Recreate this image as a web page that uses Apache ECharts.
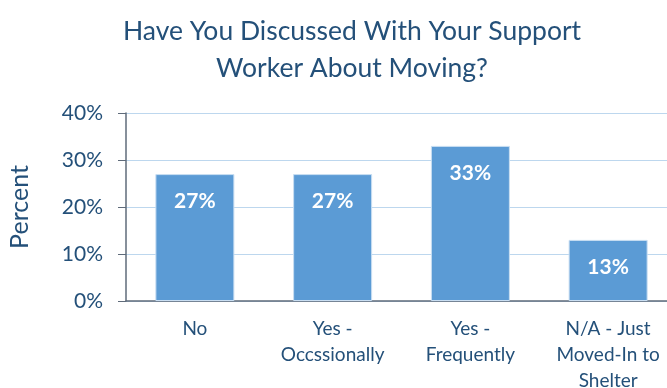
<!DOCTYPE html>
<html>
<head>
<meta charset="utf-8">
<script src="https://cdn.jsdelivr.net/npm/echarts@6/dist/echarts.min.js"></script>
<style>
  html, body { margin: 0; padding: 0; background: #fff; }
  #chart { width: 667px; height: 388px; }
</style>
</head>
<body>
<div id="chart"></div>
<script>
// Answer categories (line breaks as printed under the axis)
const categories = ['No', 'Yes -\nOccssionally', 'Yes -\nFrequently', 'N/A - Just\nMoved-In to\nShelter'];
// Share of respondents, percent
const percentValues = [27, 27, 33, 13];
// Value axis ticks
const yTicks = [0, 10, 20, 30, 40];

const textColor = '#245079';
const fontFamily = 'Lato, "Open Sans", sans-serif';

const chart = echarts.init(document.getElementById('chart'), null, { renderer: 'canvas' });

chart.setOption({
  backgroundColor: '#ffffff',
  animation: false,
  title: {
    text: 'Have You Discussed With Your Support\nWorker About Moving?',
    left: 347,
    top: 8,
    textAlign: 'center',
    textStyle: {
      color: textColor,
      fontFamily: fontFamily,
      fontWeight: 'normal',
      fontSize: 26.5,
      lineHeight: 37
    }
  },
  grid: {
    left: 126,
    right: -10,
    top: 113,
    bottom: 87,
    containLabel: false,
    outerBoundsMode: 'none'
  },
  xAxis: {
    type: 'category',
    data: categories,
    axisLine: { show: true, lineStyle: { color: '#5F6B7A', width: 1.5 } },
    axisTick: { show: false },
    axisLabel: {
      color: textColor,
      fontFamily: fontFamily,
      fontSize: 19,
      lineHeight: 26,
      margin: 15,
      interval: 0
    }
  },
  yAxis: {
    type: 'value',
    min: yTicks[0],
    max: yTicks[yTicks.length - 1],
    interval: yTicks[1] - yTicks[0],
    name: 'Percent',
    nameLocation: 'middle',
    nameGap: 94,
    nameRotate: 90,
    nameTextStyle: {
      color: textColor,
      fontFamily: fontFamily,
      fontSize: 25
    },
    axisLine: { show: true, lineStyle: { color: '#5F6B7A', width: 1.5 } },
    axisTick: { show: true, inside: false, length: 8, lineStyle: { color: '#5F6B7A', width: 1 } },
    splitLine: { show: true, lineStyle: { color: '#BDD7EE', width: 1 } },
    axisLabel: {
      color: textColor,
      fontFamily: fontFamily,
      fontSize: 21,
      margin: 23,
      formatter: '{value}%'
    }
  },
  series: [{
    type: 'bar',
    data: percentValues,
    barWidth: 79,
    itemStyle: {
      color: '#5B9BD5',
      borderColor: '#C9DEF2',
      borderWidth: 1
    },
    label: {
      show: true,
      position: 'insideTop',
      distance: 17,
      color: '#ffffff',
      fontFamily: fontFamily,
      fontWeight: 'bold',
      fontSize: 21,
      formatter: '{c}%'
    }
  }]
});
</script>
</body>
</html>
